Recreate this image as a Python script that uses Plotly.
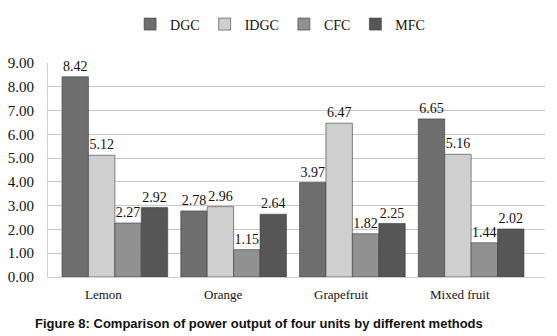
import plotly.graph_objects as go

categories = ["Lemon", "Orange", "Grapefruit", "Mixed fruit"]
series_names = ["DGC", "IDGC", "CFC", "MFC"]
dgc = [8.42, 2.78, 3.97, 6.65]
idgc = [5.12, 2.96, 6.47, 5.16]
cfc = [2.27, 1.15, 1.82, 1.44]
mfc = [2.92, 2.64, 2.25, 2.02]
y_ticks = [0, 1, 2, 3, 4, 5, 6, 7, 8, 9]
caption = "Figure 8: Comparison of power output of four units by different methods"

colors = ["#6e6e6e", "#cfcfcf", "#919191", "#565656"]
values = [dgc, idgc, cfc, mfc]

serif = "Liberation Serif, Times New Roman, serif"

fig = go.Figure()
for name, vals, col in zip(series_names, values, colors):
    fig.add_trace(go.Bar(
        x=categories, y=vals, name=name,
        marker=dict(color=col, line=dict(color="#3a3a3a", width=0.6)),
        text=[f"{v:.2f}" for v in vals], textposition="outside",
        textfont=dict(family=serif, size=14, color="#111"),
        cliponaxis=False,
    ))

annotations = []
for c in categories:
    annotations.append(dict(x=c, y=0, xref="x", yref="paper", text=c, showarrow=False,
                            yanchor="middle", yshift=-17, xshift=-11,
                            font=dict(family=serif, size=13, color="#111")))
annotations.append(dict(x=0.5, y=0, xref="paper", yref="paper", text="<b>" + caption + "</b>",
                        showarrow=False, xanchor="center", yanchor="middle",
                        yshift=-46, xshift=-38,
                        font=dict(family="Liberation Sans, Arial, sans-serif", size=13, color="#111")))

fig.update_layout(
    width=557, height=336,
    margin=dict(l=48, r=12, t=63, b=59, autoexpand=False),
    paper_bgcolor="white", plot_bgcolor="white",
    barmode="group", bargap=0.11, bargroupgap=0.0,
    showlegend=True,
    legend=dict(orientation="h", x=0.467, xanchor="center", y=1.18, yanchor="middle",
                font=dict(family=serif, size=14, color="#111"), itemwidth=30,
                bgcolor="rgba(0,0,0,0)"),
    xaxis=dict(range=[-0.563, 3.622], showticklabels=False, showgrid=False,
               showline=True, linecolor="#d0d0d0", ticks=""),
    yaxis=dict(range=[0, 9], tickvals=y_ticks, tickformat=".2f", showgrid=True,
               gridcolor="#c8c8c8", gridwidth=1, zeroline=False,
               showline=True, linecolor="#d0d0d0",
               ticks="outside", ticklen=10, tickcolor="rgba(0,0,0,0)",
               tickfont=dict(family=serif, size=15, color="#111")),
    annotations=annotations,
)

fig.write_html("out.html", config={"displayModeBar": False},
               post_script="document.body.style.margin='0';document.body.style.overflow='hidden';")
